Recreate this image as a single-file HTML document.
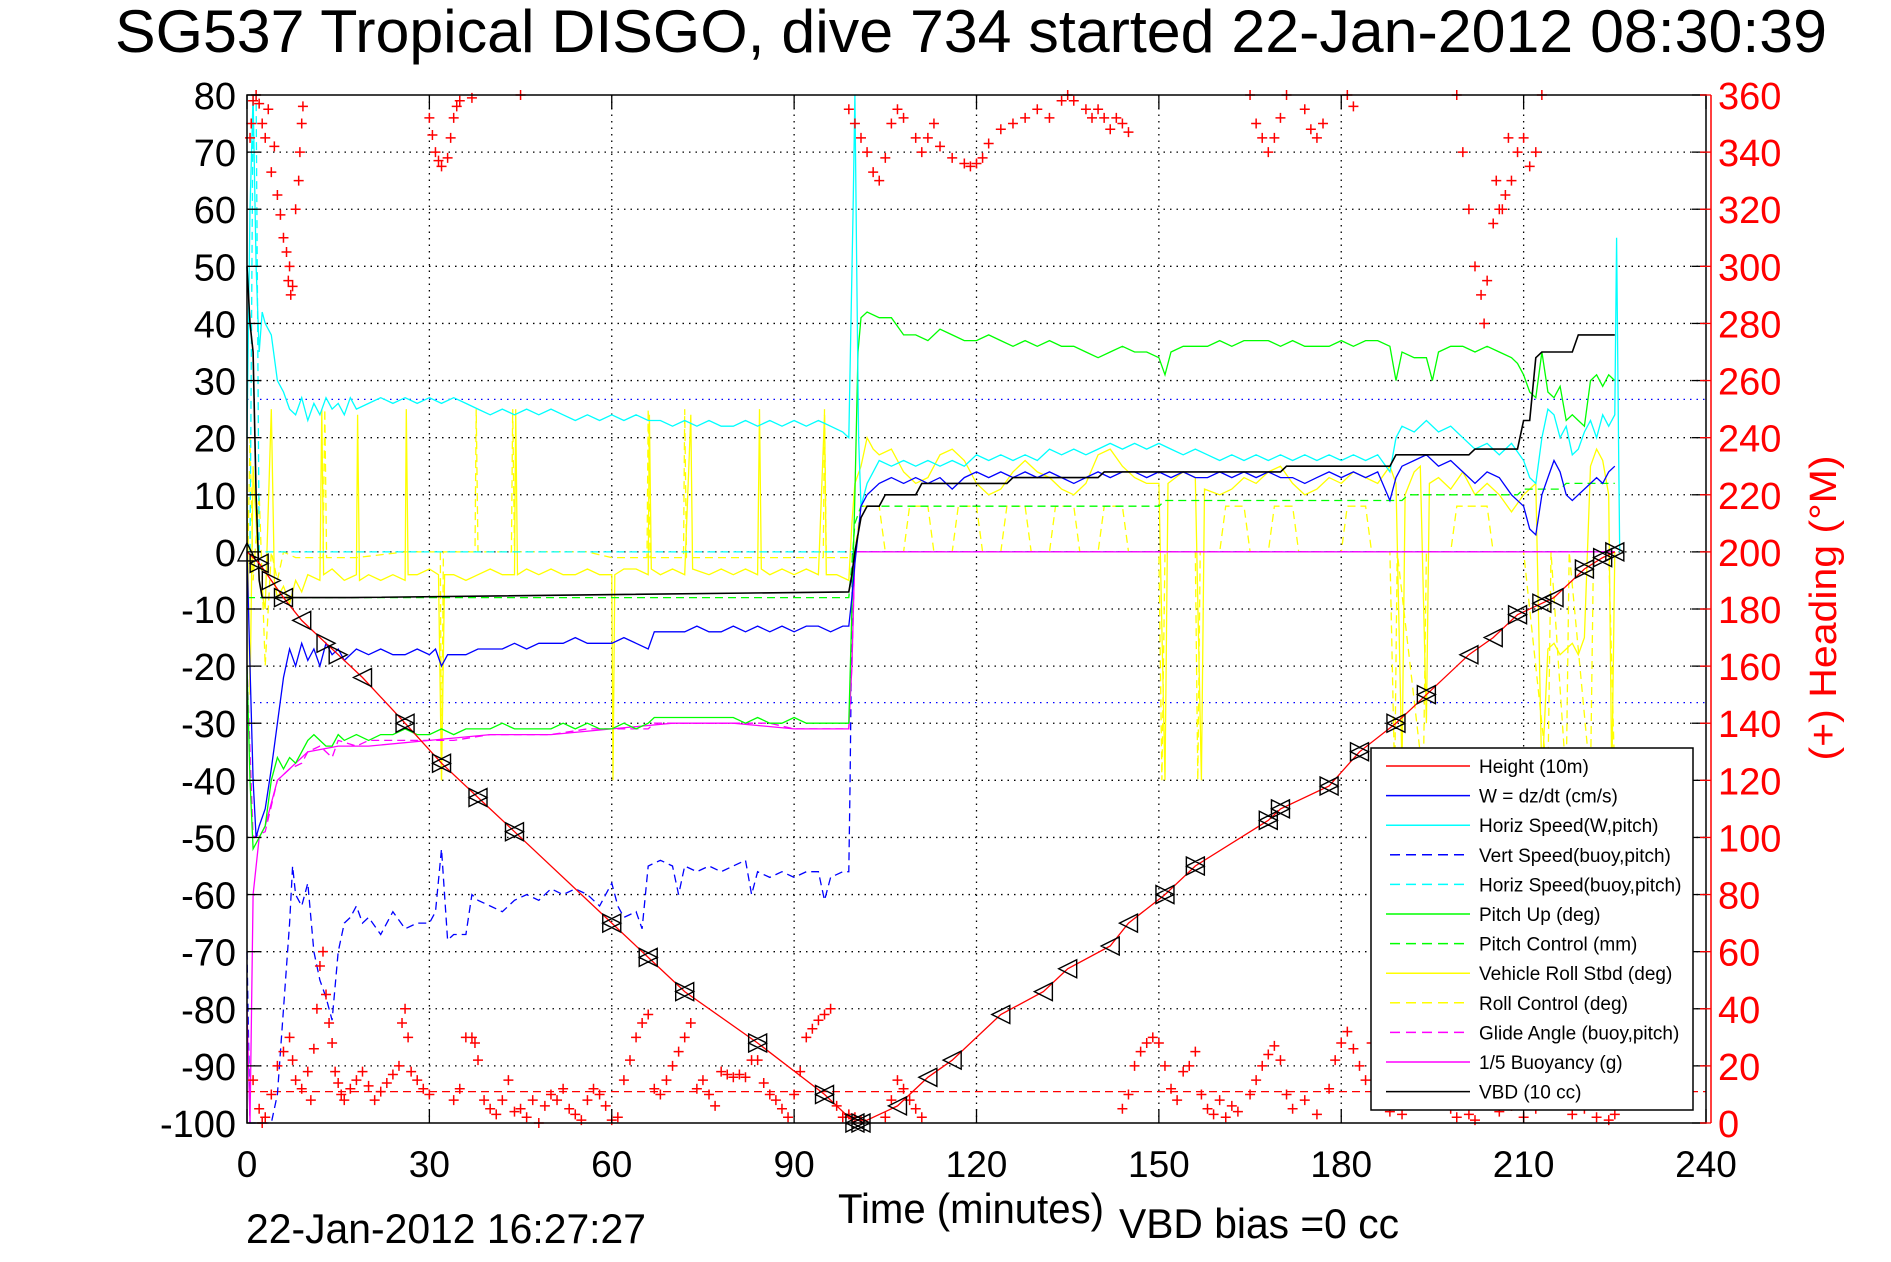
<!DOCTYPE html>
<html><head><meta charset="utf-8">
<style>
html,body{margin:0;padding:0;background:#fff;}
svg{display:block;font-family:"Liberation Sans",sans-serif;}
</style></head>
<body>
<svg id="chart" width="1891" height="1262" viewBox="0 0 1891 1262" xmlns="http://www.w3.org/2000/svg">
<rect x="0" y="0" width="1891" height="1262" fill="#fff"/>
<g id="grid"></g>
<g id="series"></g>
<g id="axes"></g>
<g id="legend"></g>
<text x="971" y="52" font-size="60" text-anchor="middle" textLength="1712" lengthAdjust="spacingAndGlyphs">SG537 Tropical DISGO, dive 734 started 22-Jan-2012 08:30:39</text>
<text x="838" y="1223" font-size="42" textLength="266" lengthAdjust="spacingAndGlyphs">Time (minutes)</text>
<text x="1119" y="1238" font-size="42" textLength="280" lengthAdjust="spacingAndGlyphs">VBD bias =0 cc</text>
<text x="246" y="1243" font-size="42" textLength="400" lengthAdjust="spacingAndGlyphs">22-Jan-2012 16:27:27</text>
<text x="0" y="0" font-size="38" fill="#f00" text-anchor="middle" transform="translate(1836,608) rotate(-90)" textLength="305" lengthAdjust="spacingAndGlyphs">(+) Heading (°M)</text>
</svg>
<script>
const xTicks=[0,30,60,90,120,150,180,210,240];
const yTicks=[80,70,60,50,40,30,20,10,0,-10,-20,-30,-40,-50,-60,-70,-80,-90,-100];
const hTicks=[360,340,320,300,280,260,240,220,200,180,160,140,120,100,80,60,40,20,0];
const heightSeries=[[0,0],[2,-2],[4,-5],[6,-8],[9,-12],[13,-16],[15,-18],[19,-22],[26,-30],[32,-37],[38,-43],[44,-49],[60,-65],[66,-71],[72,-77],[84,-86],[95,-95],[100,-100],[101,-100],[107,-97],[112,-92],[116,-89],[124,-81],[131,-77],[135,-73],[142,-69],[145,-65],[151,-60],[156,-55],[168,-47],[170,-45],[178,-41],[183,-35],[189,-30],[194,-25],[201,-18],[205,-15],[209,-11],[213,-9],[215,-8],[220,-3],[223,-1],[225,0]];
const markerKinds=["u","b",">","b","<",">",">","<","b","b","b","b","b","b","b","b","b","b","b","<","<","<","<","<","<","<","<","b","b","b","b","b","b","b","b","<","<","b","b","<","b","b","b"];
const wSeries=[[0,0],[0.5,-20],[1,-40],[1.5,-50],[2,-48],[3,-45],[4,-38],[5,-30],[6,-22],[7,-17],[8,-20],[9,-16],[10,-19],[11,-17],[12,-20],[13,-16],[14,-18],[15,-17],[16,-19],[18,-17],[20,-18],[22,-17],[24,-18],[26,-18],[28,-17],[30,-18],[31,-17],[32,-20],[33,-18],[34,-18],[36,-18],[38,-17],[40,-17],[42,-17],[44,-16],[46,-17],[48,-16],[50,-16],[52,-16],[54,-15],[56,-16],[58,-16],[60,-16],[62,-15],[64,-16],[66,-17],[67,-14],[68,-14],[70,-14],[72,-14],[74,-13],[76,-14],[78,-14],[80,-13],[82,-14],[84,-13],[86,-14],[88,-13],[90,-14],[92,-13],[94,-13],[96,-14],[98,-13],[99,-13],[99.5,-8],[100,-2],[100.5,3],[101,8],[102,10],[104,12],[106,13],[108,12],[110,13],[112,12],[114,13],[116,11],[118,13],[120,14],[122,13],[124,14],[126,13],[128,14],[130,13],[132,14],[134,13],[136,12],[138,13],[140,14],[142,13],[144,14],[146,14],[148,13],[150,14],[152,13],[154,14],[156,13],[158,13],[160,14],[162,13],[164,14],[166,13],[168,14],[170,13],[172,13],[174,12],[176,13],[178,14],[180,13],[182,14],[184,13],[186,14],[188,9],[189,13],[190,15],[192,16],[194,17],[196,15],[198,16],[200,14],[202,12],[204,14],[206,13],[208,10],[210,8],[211,4],[212,3],[213,10],[214,13],[215,16],[216,14],[217,10],[218,9],[219,10],[220,11],[221,12],[222,13],[223,12],[224,14],[225,15]];
const horizSeries=[[0,20],[0.5,60],[1,80],[1.5,50],[2,35],[2.5,42],[3,40],[4,38],[5,30],[6,28],[7,25],[8,24],[9,27],[10,23],[11,26],[12,24],[13,27],[14,25],[15,26],[16,24],[17,27],[18,25],[20,26],[22,27],[24,26],[26,27],[28,26],[30,27],[32,26],[34,27],[36,26],[38,25],[40,24],[42,25],[44,24],[46,25],[48,24],[50,25],[52,24],[54,23],[56,24],[58,23],[60,24],[62,23],[64,24],[66,23],[68,23],[70,22],[72,23],[74,22],[76,23],[78,22],[80,22],[82,23],[84,22],[86,23],[88,22],[90,23],[92,22],[94,23],[96,22],[98,21],[99,20],[99.7,60],[100,80],[100.3,50],[100.6,20],[101,8],[102,12],[103,14],[104,16],[106,15],[108,16],[110,15],[112,16],[114,15],[116,16],[118,15],[120,17],[122,16],[124,17],[126,16],[128,17],[130,16],[132,18],[134,17],[136,18],[138,17],[140,18],[142,19],[144,18],[146,19],[148,18],[150,19],[152,18],[154,17],[156,18],[158,17],[160,16],[162,17],[164,16],[166,17],[168,16],[170,17],[172,16],[174,17],[176,16],[178,17],[180,16],[182,17],[184,16],[186,17],[188,14],[189,20],[190,22],[192,21],[194,23],[196,21],[198,22],[200,20],[202,18],[204,19],[206,17],[208,19],[210,16],[211,13],[212,12],[213,20],[214,25],[215,24],[216,20],[217,22],[218,17],[219,18],[220,21],[221,23],[222,20],[223,24],[224,22],[225,24],[225.3,55],[225.6,20],[225.8,0]];
const vertBuoySeries=[[0,-70],[0.5,-100],[4,-100],[5,-95],[6,-80],[7,-65],[7.5,-55],[8,-60],[9,-62],[10,-58],[11,-70],[12,-75],[13,-78],[14,-82],[15,-70],[16,-65],[17,-64],[18,-62],[19,-65],[20,-64],[22,-67],[24,-63],[26,-66],[28,-65],[30,-65],[31,-63],[32,-52],[33,-68],[34,-67],[36,-67],[37,-60],[38,-61],[40,-62],[42,-63],[44,-61],[46,-60],[48,-61],[50,-59],[52,-60],[54,-59],[56,-60],[58,-62],[60,-58],[61,-62],[62,-64],[64,-63],[65,-66],[66,-55],[68,-54],[70,-55],[71,-60],[72,-55],[74,-56],[76,-55],[78,-56],[80,-55],[82,-54],[83,-60],[84,-56],[86,-57],[88,-56],[90,-57],[92,-56],[94,-56],[95,-61],[96,-57],[98,-56],[99,-56],[99.2,-40],[99.6,0],[100,0],[225,0]];
const horizBuoySeries=[[0.5,0],[1,80],[1.5,80],[2,0],[100,0],[225,0]];
const pitchSeries=[[0,-20],[0.5,-40],[1,-52],[2,-50],[3,-48],[4,-40],[5,-36],[6,-38],[7,-36],[8,-37],[9,-35],[10,-33],[11,-32],[12,-33],[13,-34],[14,-34],[15,-32],[16,-33],[18,-32],[20,-33],[22,-32],[24,-32],[26,-31],[28,-32],[30,-32],[32,-31],[34,-32],[36,-31],[38,-31],[40,-31],[42,-30],[44,-31],[46,-31],[48,-31],[50,-31],[52,-30],[54,-31],[56,-30],[58,-31],[60,-31],[62,-30],[64,-31],[66,-30],[67,-29],[70,-29],[72,-29],[74,-29],[76,-29],[78,-29],[80,-29],[82,-30],[84,-29],[86,-30],[88,-30],[90,-29],[92,-30],[94,-30],[96,-30],[98,-30],[99,-30],[99.5,-10],[100,10],[100.5,35],[101,41],[102,42],[104,41],[106,41],[108,38],[110,38],[112,37],[114,39],[116,38],[118,37],[120,37],[122,38],[124,37],[126,36],[128,37],[130,36],[132,37],[134,36],[136,36],[138,35],[140,34],[142,35],[144,36],[146,35],[148,35],[150,34],[151,31],[152,35],[154,36],[156,36],[158,36],[160,37],[162,36],[164,37],[166,37],[168,37],[170,36],[172,37],[174,36],[176,36],[178,36],[180,37],[182,36],[184,37],[186,37],[188,36],[189,30],[190,35],[192,34],[194,34],[195,30],[196,35],[198,36],[200,36],[202,35],[204,36],[206,35],[208,34],[209,33],[210,31],[211,28],[212,27],[213,35],[214,28],[215,27],[216,29],[217,23],[218,24],[219,23],[220,22],[221,30],[222,31],[223,29],[224,31],[225,30]];
const pitchCtrlSeries=[[0,-8],[5,-8],[30,-8],[60,-8],[99,-8],[99.5,-2],[100,5],[101,8],[150,8],[151,9],[190,9],[191,10],[209,10],[210,11],[216,11],[217,12],[225,12]];
const rollSeries=[[0,10],[0.5,-25],[1,15],[2,-5],[3,-10],[4,25],[4.5,-5],[5,-8],[6,-6],[7,-9],[8,-5],[9,-7],[10,-4],[12,-5],[12.3,25],[12.6,-4],[14,-3],[16,-5],[18,-4],[18.2,24],[18.5,-5],[20,-4],[22,-5],[24,-4],[26,-5],[26.2,25],[26.5,-4],[28,-4],[30,-3],[31.5,-4],[32,-40],[32.5,-4],[34,-4],[36,-5],[38,-4],[40,-3],[42,-4],[44,-4],[44.2,25],[44.5,-4],[46,-3],[48,-4],[50,-3],[52,-4],[54,-4],[56,-3],[58,-4],[60,-4],[60.2,-40],[60.5,-4],[62,-3],[64,-3],[66,-4],[66.2,24],[66.5,-3],[68,-4],[70,-3],[72,-4],[73,24],[73.3,-3],[76,-4],[78,-3],[80,-4],[82,-3],[84,-4],[84.3,25],[84.6,-3],[86,-4],[88,-3],[90,-4],[92,-3],[94,-4],[95,24],[95.3,-4],[97,-4],[99,-5],[99.5,5],[100,12],[101,15],[102,20],[103,18],[104,17],[106,18],[108,14],[110,12],[112,13],[114,17],[116,18],[118,16],[120,12],[122,10],[124,11],[126,14],[128,16],[130,14],[132,13],[134,11],[136,10],[138,12],[140,17],[142,18],[144,15],[146,13],[148,12],[150,12],[151,-40],[151.5,12],[154,14],[156,13],[157,-40],[157.5,11],[160,10],[162,11],[164,13],[166,12],[168,14],[170,15],[172,12],[174,10],[176,11],[178,13],[180,12],[182,14],[184,13],[186,12],[188,15],[189,12],[190,-38],[190.5,10],[192,14],[193,15],[194,-30],[194.5,12],[196,13],[198,11],[200,14],[202,10],[204,12],[206,10],[208,7],[210,10],[212,12],[213,-40],[214,-17],[215,-16],[216,-18],[217,-17],[218,-16],[219,-18],[220,-15],[221,15],[222,18],[223,16],[224,10],[224.5,-40],[225,0]];
const rollCtrlSeries=[[0,-10],[0.5,20],[1,-5],[2,10],[3,-20],[4,0],[5,-5],[6,0],[8,-1],[12.5,-1],[12.8,25],[13.1,-1],[18,-1],[26,0],[31.8,0],[32,-40],[32.3,0],[37.5,0],[37.7,25],[38,0],[43.5,0],[43.7,25],[44,0],[50,0],[56,0],[60,-1],[65.8,-1],[66,25],[66.3,-1],[71.8,-1],[72,25],[72.3,-1],[80,-1],[94.8,-1],[95,25],[95.3,-1],[99,-1],[100,0],[101,8],[104,8],[105,0],[108,0],[109,8],[112,8],[113,0],[116,0],[117,8],[120,8],[121,0],[124,0],[125,8],[128,8],[129,0],[132,0],[133,8],[136,8],[137,0],[140,0],[141,8],[144,8],[145,0],[150,0],[150.5,-40],[151,0],[156,0],[156.4,-40],[156.8,0],[160,0],[161,8],[164,8],[165,0],[168,0],[169,8],[172,8],[173,0],[180,0],[181,8],[184,8],[185,0],[188,0],[188.8,-40],[189.2,0],[193.5,-40],[194,0],[198,0],[199,8],[204,8],[205,0],[210,0],[214,-40],[214.5,0],[217,-40],[217.5,0],[221,-40],[221.5,0],[224,0],[225,-40]];
const glideSeries=[[0,-20],[1,-50],[3,-49],[5,-40],[7,-38],[9,-37],[10,-35],[12,-34],[14,-36],[15,-33],[18,-34],[20,-33],[24,-33],[28,-33],[30,-33],[34,-33],[40,-32],[46,-32],[50,-32],[56,-31],[62,-31],[66,-31],[67,-30],[72,-30],[80,-30],[86,-30],[90,-31],[96,-31],[99,-31],[99.5,-20],[100,0],[225,0]];
const buoySeries=[[0,-80],[0.5,-100],[1,-60],[2,-50],[3,-48],[5,-40],[7,-38],[10,-35],[15,-34],[20,-34],[30,-33],[40,-32],[50,-32],[60,-31],[70,-30],[80,-30],[90,-31],[99,-31],[99.5,-20],[100,0],[225,0]];
const vbdSeries=[[0,50],[0.5,40],[1,35],[1.5,10],[2,-5],[2.5,-8],[17,-8],[99,-7],[99.5,-4],[100,0],[101,6],[102,8],[104,8],[105,10],[110,10],[111,12],[125,12],[126,13],[140,13],[141,14],[170,14],[171,15],[188,15],[189,17],[201,17],[202,18],[209,18],[210,23],[211,23],[212,34],[213,35],[218,35],[219,38],[225,38]];
const headingTimes=[0.5,0.7,1,1.5,2,2.5,3,3.5,4,4.5,5,5.5,6,6.5,7,6.8,7.2,7.5,8,8.5,8.7,9,9.2,30,30.5,31,31.5,32,33,33.5,34,34.5,35,37,45,99,100,101,102,103,104,105,106,107,108,110,111,112,113,114,116,118,119,120,121,122,124,126,128,130,132,134,135,136,138,139,140,141,142,143,144,145,165,166,167,168,169,170,171,174,175,176,177,181,182,199,200,201,202,203,203.5,204,205,206,207,208,209,210,211,212,213,206.5,207.5,205.5,1,2,2.5,3,4,5,6,7,7.5,8,9,10,10.5,11,11.5,12,12.5,13,13.5,14,14.5,15,15.5,16,17,18,19,20,21,22,23,24,25,25.5,26,26.5,27,28,29,30,34,35,36,37,37.5,38,39,40,41,42,43,44,45,46,47,48,49,50,51,52,53,54,55,56,57,58,59,60,61,62,63,64,65,66,67,68,69,70,71,72,73,74,75,76,77,78,79,80,81,82,83,84,85,86,87,88,89,90,91,92,93,94,95,96,97,98,99,100,101,105,106,107,108,109,110,111,144,145,146,147,148,149,150,151,152,153,154,155,156,157,158,159,160,161,162,163,165,166,167,168,169,170,171,172,174,176,178,179,180,181,182,183,184,185,186,187,188,190,191,192,194,195,196,198,199,201,202,204,206,208,210,212,214,216,218,220,222,224,225];
const headingValues=[345,350,358,360,357,350,345,355,333,342,325,318,310,305,300,295,290,293,320,330,340,350,356,352,346,340,337,335,338,345,352,356,358,359,360,355,350,345,340,333,330,338,350,355,352,345,340,345,350,342,338,336,335,336,338,343,348,350,352,355,352,358,360,358,355,352,355,352,348,352,350,347,360,350,345,340,345,352,360,355,348,345,350,360,356,360,340,320,300,290,280,295,315,320,325,330,340,345,335,340,360,320,345,330,15,5,0,2,10,20,25,30,22,15,12,18,8,26,40,55,60,45,35,28,18,14,10,8,12,15,18,13,8,11,14,17,20,35,40,30,18,15,12,10,8,12,30,30,28,22,8,5,3,8,15,4,5,2,8,0,6,10,8,12,5,3,1,8,12,10,6,1,2,15,22,30,35,38,12,10,15,20,25,30,35,12,15,10,6,18,17,16,17,16,22,22,14,10,8,5,2,10,18,30,33,36,38,40,6,2,3,2,1,2,8,15,12,8,5,2,5,10,20,25,28,30,28,20,12,8,18,20,25,10,5,3,8,2,6,4,10,15,20,24,27,22,10,5,8,3,12,22,28,32,26,20,15,28,22,10,4,3,18,24,12,14,8,5,2,3,1,8,4,6,2,5,10,8,3,5,2,1,3];

const L=247,R=1706,T=95,B=1123;
function xs(t){return L+(t-0)/(240-0)*(R-L);}
function ys(v){return B-(v+100)/180*(B-T);}
function yh(h){return ys(-100+h/2);}
const NS="http://www.w3.org/2000/svg";
function mk(tag,attrs,parent){const e=document.createElementNS(NS,tag);for(const k in attrs)e.setAttribute(k,attrs[k]);parent.appendChild(e);return e;}
const grid=document.getElementById('grid'),ser=document.getElementById('series'),axes=document.getElementById('axes'),leg=document.getElementById('legend');

xTicks.forEach(t=>{if(t>0&&t<240){const l=mk('line',{x1:xs(t),x2:xs(t),y1:T,y2:B,stroke:'#000','stroke-width':1.3,'stroke-dasharray':'1.5,5'},grid);

}});
yTicks.forEach(v=>{if(v>-100&&v<80){const l=mk('line',{x1:L,x2:R,y1:ys(v),y2:ys(v),stroke:'#000','stroke-width':1.3,'stroke-dasharray':'1.5,5'},grid);

}});
[26.7,-26.4].forEach(v=>{const l=mk('line',{x1:L,x2:R,y1:ys(v),y2:ys(v),stroke:'#00f','stroke-width':1.3,'stroke-dasharray':'1.5,5'},grid);

});

function line(data,color,dash,name,w){
  const d=data.map((p,i)=>(i?'L':'M')+xs(p[0]).toFixed(1)+' '+ys(p[1]).toFixed(1)).join(' ');
  const a={d:d,fill:'none',stroke:color,'stroke-width':w||1.3};
  if(dash)a['stroke-dasharray']=dash;
  const e=mk('path',a,ser);
  
  
}
const dh=mk('line',{x1:L,x2:R,y1:yh(11),y2:yh(11),stroke:'#f00','stroke-width':1.3,'stroke-dasharray':'8,5'},ser);


line(rollCtrlSeries,'#ff0','8,5','roll-control-line');
line(rollSeries,'#ff0',null,'vehicle-roll-line');
line(horizBuoySeries,'#0ff','8,5','horiz-speed-buoy-line');
line(vertBuoySeries,'#00f','8,5','vert-speed-buoy-line');
line(buoySeries,'#f0f',null,'buoyancy-line');
line(glideSeries,'#f0f','8,5','glide-angle-line');
line(pitchSeries,'#0f0',null,'pitch-up-line');
line(pitchCtrlSeries,'#0f0','8,5','pitch-control-line');
line(horizSeries,'#0ff',null,'horiz-speed-line');
line(wSeries,'#00f',null,'w-dzdt-line');
line(vbdSeries,'#000',null,'vbd-line',1.6);
line(heightSeries,'#f00',null,'height-line');

let hp='';
headingTimes.forEach((t,i)=>{const x=xs(t),y=yh(headingValues[i]);hp+='M'+(x-5)+' '+y+'h10M'+x+' '+(y-5)+'v10';});
const hm=mk('path',{d:hp,stroke:'#f00','stroke-width':1.5,fill:'none'},ser);



let mp='';
heightSeries.forEach((p,i)=>{const x=xs(p[0]),y=ys(p[1]),s=9,k=markerKinds[i];
  const right='M'+(x-s)+' '+(y-s)+'L'+(x+s)+' '+y+'L'+(x-s)+' '+(y+s)+'Z';
  const left='M'+(x+s)+' '+(y-s)+'L'+(x-s)+' '+y+'L'+(x+s)+' '+(y+s)+'Z';
  if(k==='u')mp+='M'+(x-s)+' '+(y+s)+'L'+x+' '+(y-s)+'L'+(x+s)+' '+(y+s)+'Z';
  else if(k==='>')mp+=right;else if(k==='<')mp+=left;else mp+=right+left;});
const mm=mk('path',{d:mp,stroke:'#000','stroke-width':1.4,fill:'none'},ser);



const fr=mk('rect',{x:L,y:T,width:R-L,height:B-T,fill:'none',stroke:'#000','stroke-width':1.5},axes);


const ra=mk('line',{x1:R+5,x2:R+5,y1:T,y2:B,stroke:'#f00','stroke-width':1.5},axes);


xTicks.forEach(t=>{const x=xs(t);
  mk('line',{x1:x,x2:x,y1:B,y2:B-14,stroke:'#000','stroke-width':1.3},axes);
  mk('line',{x1:x,x2:x,y1:T,y2:T+14,stroke:'#000','stroke-width':1.3},axes);
  const tx=mk('text',{x:x,y:1177,'font-size':37,'text-anchor':'middle'},axes);tx.textContent=t;
  
  });
yTicks.forEach(v=>{const y=ys(v);
  mk('line',{x1:L,x2:L+14,y1:y,y2:y,stroke:'#000','stroke-width':1.3},axes);
  mk('line',{x1:R,x2:R-14,y1:y,y2:y,stroke:'#000','stroke-width':1.3},axes);
  const tx=mk('text',{x:236,y:y+14,'font-size':38,'text-anchor':'end'},axes);tx.textContent=v;
  
  });
hTicks.forEach(h=>{const y=yh(h);
  mk('line',{x1:R+5,x2:R-6,y1:y,y2:y,stroke:'#f00','stroke-width':1.3},axes);
  const tx=mk('text',{x:1718,y:y+14,'font-size':38,fill:'#f00'},axes);tx.textContent=h;
  
  });

const legendLabels=['Height (10m)','W = dz/dt (cm/s)','Horiz Speed(W,pitch)','Vert Speed(buoy,pitch)','Horiz Speed(buoy,pitch)','Pitch Up (deg)','Pitch Control (mm)','Vehicle Roll Stbd (deg)','Roll Control (deg)','Glide Angle (buoy,pitch)','1/5 Buoyancy (g)','VBD (10 cc)'];
const legendColors=['#f00','#00f','#0ff','#00f','#0ff','#0f0','#0f0','#ff0','#ff0','#f0f','#f0f','#000'];
const legendDash=[0,0,0,1,1,0,1,0,1,1,0,0];
const lb=mk('rect',{x:1371,y:748,width:322,height:362,fill:'#fff',stroke:'#000','stroke-width':1.5},leg);


legendLabels.forEach((s,i)=>{const y=766+i*29.6;
  const g=mk('g',{},leg);
  
  
  const a={x1:legendDash[i]?1390:1386,x2:1470,y1:y,y2:y,stroke:legendColors[i],'stroke-width':1.5};
  if(legendDash[i])a['stroke-dasharray']='10,6';
  mk('line',a,g);
  const t=mk('text',{x:1479,y:y+7,'font-size':19},g);t.textContent=s;});
</script>
</body></html>
